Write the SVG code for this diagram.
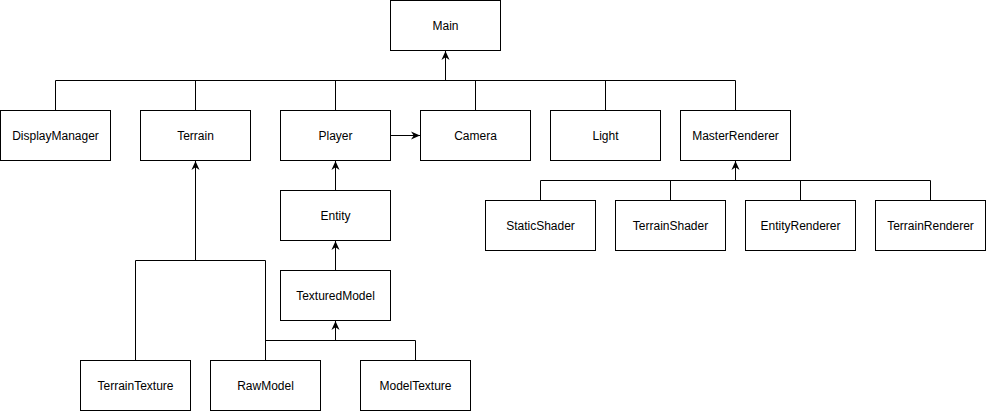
<svg xmlns="http://www.w3.org/2000/svg" width="986" height="411" viewBox="0 0 986 411">
<style>
.n rect{fill:#fff;stroke:#000;stroke-width:1}
.n text{font-family:"Liberation Sans",Arial,sans-serif;font-size:12px;fill:#000;text-anchor:middle;dominant-baseline:central}
.e path{fill:none;stroke:#000;stroke-width:1}
</style>
<defs>
<marker id="a" viewBox="0 0 10 10" refX="10" refY="5" markerWidth="9" markerHeight="9" markerUnits="userSpaceOnUse" orient="auto">
<path d="M0,0.5 L10,5 L0,9.5 L3,5 z" fill="#000"/>
</marker>
</defs>
<rect width="986" height="411" fill="#fff"/>
<g class="e" id="connectors">
<path d="M55.5,110 V80.5 H735.5 V110"/>
<path d="M195.5,110 V80.5"/>
<path d="M335.5,110 V80.5"/>
<path d="M475.5,110 V80.5"/>
<path d="M605.5,110 V80.5"/>
<path d="M445.5,80.5 V51" marker-end="url(#a)"/>
<path d="M390.5,135.5 H420" marker-end="url(#a)"/>
<path d="M540.5,200 V180.5 H930.5 V200"/>
<path d="M670.5,200 V180.5"/>
<path d="M800.5,200 V180.5"/>
<path d="M735.5,180.5 V161" marker-end="url(#a)"/>
<path d="M335.5,190 V161" marker-end="url(#a)"/>
<path d="M335.5,270 V241" marker-end="url(#a)"/>
<path d="M135.5,360 V260.5 H265.5 V360"/>
<path d="M195.5,260.5 V161" marker-end="url(#a)"/>
<path d="M265.5,340.5 H415.5 V360"/>
<path d="M335.5,340.5 V321" marker-end="url(#a)"/>
</g>
<g class="n" id="main"><rect x="390.5" y="0.5" width="110" height="50"/><text x="445.5" y="25.5">Main</text></g>
<g class="n" id="displaymanager"><rect x="0.5" y="110.5" width="110" height="50"/><text x="55.5" y="135.5">DisplayManager</text></g>
<g class="n" id="terrain"><rect x="140.5" y="110.5" width="110" height="50"/><text x="195.5" y="135.5">Terrain</text></g>
<g class="n" id="player"><rect x="280.5" y="110.5" width="110" height="50"/><text x="335.5" y="135.5">Player</text></g>
<g class="n" id="camera"><rect x="420.5" y="110.5" width="110" height="50"/><text x="475.5" y="135.5">Camera</text></g>
<g class="n" id="light"><rect x="550.5" y="110.5" width="110" height="50"/><text x="605.5" y="135.5">Light</text></g>
<g class="n" id="masterrenderer"><rect x="680.5" y="110.5" width="110" height="50"/><text x="735.5" y="135.5">MasterRenderer</text></g>
<g class="n" id="staticshader"><rect x="485.5" y="200.5" width="110" height="50"/><text x="540.5" y="225.5">StaticShader</text></g>
<g class="n" id="terrainshader"><rect x="615.5" y="200.5" width="110" height="50"/><text x="670.5" y="225.5">TerrainShader</text></g>
<g class="n" id="entityrenderer"><rect x="745.5" y="200.5" width="110" height="50"/><text x="800.5" y="225.5">EntityRenderer</text></g>
<g class="n" id="terrainrenderer"><rect x="875.5" y="200.5" width="110" height="50"/><text x="930.5" y="225.5">TerrainRenderer</text></g>
<g class="n" id="entity"><rect x="280.5" y="190.5" width="110" height="50"/><text x="335.5" y="215.5">Entity</text></g>
<g class="n" id="texturedmodel"><rect x="280.5" y="270.5" width="110" height="50"/><text x="335.5" y="295.5">TexturedModel</text></g>
<g class="n" id="terraintexture"><rect x="80.5" y="360.5" width="110" height="50"/><text x="135.5" y="385.5">TerrainTexture</text></g>
<g class="n" id="rawmodel"><rect x="210.5" y="360.5" width="110" height="50"/><text x="265.5" y="385.5">RawModel</text></g>
<g class="n" id="modeltexture"><rect x="360.5" y="360.5" width="110" height="50"/><text x="415.5" y="385.5">ModelTexture</text></g>
</svg>
